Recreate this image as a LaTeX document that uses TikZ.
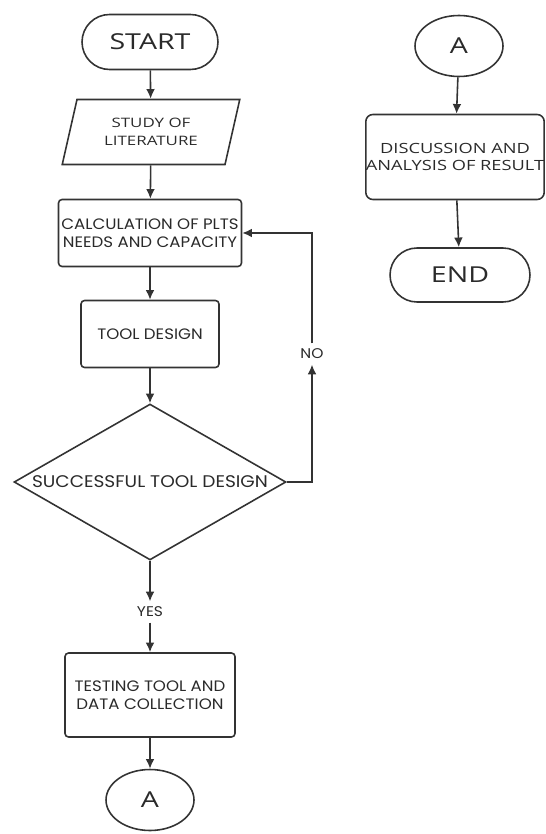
\documentclass[tikz,border=0pt]{standalone}
\usepackage{fontspec}
\setmainfont[FakeStretch=1.3]{Open Sans}
\newfontfamily\gothic[FakeStretch=1.1]{Poppins}
\usetikzlibrary{shapes.geometric,shapes.misc,arrows.meta}
\definecolor{linegray}{HTML}{333333}
\definecolor{textgray}{HTML}{2A2A2A}
\tikzset{
  base/.style={draw=linegray, line width=0.9pt, text=textgray, align=center, inner sep=0pt},
  terminal/.style={base, rounded rectangle, minimum width=2.72cm, minimum height=1.1cm,
    font=\fontsize{12.5}{14}\selectfont},
  io/.style={base, trapezium, trapezium left angle=71, trapezium right angle=109,
    trapezium stretches=true, minimum width=3.56cm, minimum height=1.3cm,
    font=\fontsize{7.4}{10}\selectfont},
  process/.style={base, rectangle, rounded corners=2pt, font=\gothic\fontsize{8.6}{10}\selectfont},
  decision/.style={base, diamond, aspect=1.74, minimum width=5.44cm, minimum height=3.12cm,
    font=\gothic\fontsize{9.6}{11}\selectfont},
  connector/.style={base, ellipse, minimum width=1.76cm, minimum height=1.22cm,
    font=\fontsize{12.5}{14}\selectfont},
  label/.style={text=textgray, inner sep=3pt, font=\gothic\fontsize{8}{9}\selectfont},
  arr/.style={-{Latex[length=5.5pt,width=5pt]}, draw=linegray, line width=0.9pt}
}
\begin{document}
\begin{tikzpicture}[x=0.02cm, y=-0.02cm]
  \useasboundingbox (0,0) rectangle (546,834);

  % left column
  \node[terminal] (start) at (150,42) {START};
  \node[io] (study) at (151,132) {STUDY OF\\LITERATURE};
  \node[process, minimum width=3.66cm, minimum height=1.34cm] (calc) at (150,233)
    {CALCULATION OF PLTS\\NEEDS AND CAPACITY};
  \node[process, minimum width=2.76cm, minimum height=1.34cm] (tool) at (150,334) {TOOL DESIGN};
  \node[decision] (dec) at (150,482) {SUCCESSFUL TOOL DESIGN};
  \node[label] (yes) at (150,612) {YES};
  \node[process, minimum width=3.4cm, minimum height=1.68cm] (test) at (150,695)
    {TESTING TOOL AND\\DATA COLLECTION};
  \node[connector] (a1) at (150,800) {A};
  \node[label] (no) at (312,354) {NO};

  % right column
  \node[connector] (a2) at (459,46) {A};
  \node[process, rounded corners=4pt, minimum width=3.56cm, minimum height=1.7cm,
    font=\fontsize{8}{10}\selectfont] (disc) at (455,157) {DISCUSSION AND\\ANALYSIS OF RESULT};
  \node[terminal, minimum width=2.8cm, minimum height=1.08cm] (end) at (460,275) {END};

  \draw[arr] (start) -- (study);
  \draw[arr] (study) -- (calc);
  \draw[arr] (calc) -- (tool);
  \draw[arr] (tool) -- (dec);
  \draw[arr] (dec) -- (yes);
  \draw[arr] (yes) -- (test);
  \draw[arr] (test) -- (a1);
  \draw[arr] (dec.east) -| (no);
  \draw[arr] (no) |- (calc.east);

  \draw[arr] (a2) -- (disc);
  \draw[arr] (disc) -- (end);
\end{tikzpicture}
\end{document}
